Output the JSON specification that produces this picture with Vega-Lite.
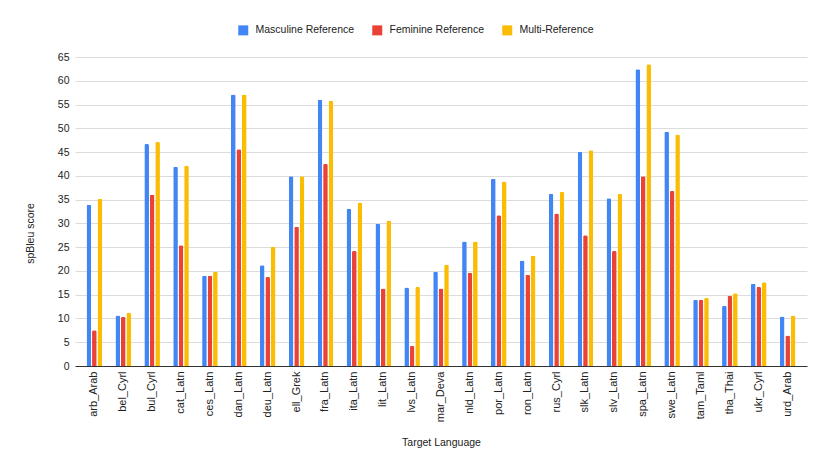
{
  "$schema": "https://vega.github.io/schema/vega-lite/v6.json",
  "description": "spBleu score by target language and reference type",
  "width": 732,
  "height": 309,
  "autosize": {"type": "none"},
  "padding": {"left": 75, "top": 57, "right": 23, "bottom": 107},
  "background": "white",
  "config": {
    "font": "Arial, Liberation Sans, sans-serif",
    "view": {"stroke": null},
    "axis": {"labelColor": "#222222", "titleColor": "#222222", "titleFontWeight": "normal"}
  },
  "data": {
    "values": [
      {"lang": "arb_Arab", "ref": "Masculine Reference", "score": 33.9},
      {"lang": "arb_Arab", "ref": "Feminine Reference", "score": 7.5},
      {"lang": "arb_Arab", "ref": "Multi-Reference", "score": 35.2},
      {"lang": "bel_Cyrl", "ref": "Masculine Reference", "score": 10.6},
      {"lang": "bel_Cyrl", "ref": "Feminine Reference", "score": 10.3},
      {"lang": "bel_Cyrl", "ref": "Multi-Reference", "score": 11.2},
      {"lang": "bul_Cyrl", "ref": "Masculine Reference", "score": 46.7},
      {"lang": "bul_Cyrl", "ref": "Feminine Reference", "score": 36.0},
      {"lang": "bul_Cyrl", "ref": "Multi-Reference", "score": 47.1},
      {"lang": "cat_Latn", "ref": "Masculine Reference", "score": 41.9},
      {"lang": "cat_Latn", "ref": "Feminine Reference", "score": 25.4},
      {"lang": "cat_Latn", "ref": "Multi-Reference", "score": 42.1},
      {"lang": "ces_Latn", "ref": "Masculine Reference", "score": 19.0},
      {"lang": "ces_Latn", "ref": "Feminine Reference", "score": 19.0},
      {"lang": "ces_Latn", "ref": "Multi-Reference", "score": 19.8},
      {"lang": "dan_Latn", "ref": "Masculine Reference", "score": 57.1},
      {"lang": "dan_Latn", "ref": "Feminine Reference", "score": 45.6},
      {"lang": "dan_Latn", "ref": "Multi-Reference", "score": 57.1},
      {"lang": "deu_Latn", "ref": "Masculine Reference", "score": 21.2},
      {"lang": "deu_Latn", "ref": "Feminine Reference", "score": 18.7},
      {"lang": "deu_Latn", "ref": "Multi-Reference", "score": 25.1},
      {"lang": "ell_Grek", "ref": "Masculine Reference", "score": 39.9},
      {"lang": "ell_Grek", "ref": "Feminine Reference", "score": 29.3},
      {"lang": "ell_Grek", "ref": "Multi-Reference", "score": 39.9},
      {"lang": "fra_Latn", "ref": "Masculine Reference", "score": 56.0},
      {"lang": "fra_Latn", "ref": "Feminine Reference", "score": 42.5},
      {"lang": "fra_Latn", "ref": "Multi-Reference", "score": 55.8},
      {"lang": "ita_Latn", "ref": "Masculine Reference", "score": 33.1},
      {"lang": "ita_Latn", "ref": "Feminine Reference", "score": 24.2},
      {"lang": "ita_Latn", "ref": "Multi-Reference", "score": 34.4},
      {"lang": "lit_Latn", "ref": "Masculine Reference", "score": 29.9},
      {"lang": "lit_Latn", "ref": "Feminine Reference", "score": 16.3},
      {"lang": "lit_Latn", "ref": "Multi-Reference", "score": 30.6},
      {"lang": "lvs_Latn", "ref": "Masculine Reference", "score": 16.5},
      {"lang": "lvs_Latn", "ref": "Feminine Reference", "score": 4.2},
      {"lang": "lvs_Latn", "ref": "Multi-Reference", "score": 16.6},
      {"lang": "mar_Deva", "ref": "Masculine Reference", "score": 19.8},
      {"lang": "mar_Deva", "ref": "Feminine Reference", "score": 16.3},
      {"lang": "mar_Deva", "ref": "Multi-Reference", "score": 21.3},
      {"lang": "nld_Latn", "ref": "Masculine Reference", "score": 26.2},
      {"lang": "nld_Latn", "ref": "Feminine Reference", "score": 19.6},
      {"lang": "nld_Latn", "ref": "Multi-Reference", "score": 26.2},
      {"lang": "por_Latn", "ref": "Masculine Reference", "score": 39.4},
      {"lang": "por_Latn", "ref": "Feminine Reference", "score": 31.7},
      {"lang": "por_Latn", "ref": "Multi-Reference", "score": 38.8},
      {"lang": "ron_Latn", "ref": "Masculine Reference", "score": 22.2},
      {"lang": "ron_Latn", "ref": "Feminine Reference", "score": 19.2},
      {"lang": "ron_Latn", "ref": "Multi-Reference", "score": 23.2},
      {"lang": "rus_Cyrl", "ref": "Masculine Reference", "score": 36.2},
      {"lang": "rus_Cyrl", "ref": "Feminine Reference", "score": 32.1},
      {"lang": "rus_Cyrl", "ref": "Multi-Reference", "score": 36.6},
      {"lang": "slk_Latn", "ref": "Masculine Reference", "score": 45.0},
      {"lang": "slk_Latn", "ref": "Feminine Reference", "score": 27.5},
      {"lang": "slk_Latn", "ref": "Multi-Reference", "score": 45.4},
      {"lang": "slv_Latn", "ref": "Masculine Reference", "score": 35.3},
      {"lang": "slv_Latn", "ref": "Feminine Reference", "score": 24.2},
      {"lang": "slv_Latn", "ref": "Multi-Reference", "score": 36.2},
      {"lang": "spa_Latn", "ref": "Masculine Reference", "score": 62.4},
      {"lang": "spa_Latn", "ref": "Feminine Reference", "score": 39.9},
      {"lang": "spa_Latn", "ref": "Multi-Reference", "score": 63.5},
      {"lang": "swe_Latn", "ref": "Masculine Reference", "score": 49.3},
      {"lang": "swe_Latn", "ref": "Feminine Reference", "score": 36.8},
      {"lang": "swe_Latn", "ref": "Multi-Reference", "score": 48.7},
      {"lang": "tam_Taml", "ref": "Masculine Reference", "score": 13.9},
      {"lang": "tam_Taml", "ref": "Feminine Reference", "score": 13.9},
      {"lang": "tam_Taml", "ref": "Multi-Reference", "score": 14.3},
      {"lang": "tha_Thai", "ref": "Masculine Reference", "score": 12.6},
      {"lang": "tha_Thai", "ref": "Feminine Reference", "score": 14.7},
      {"lang": "tha_Thai", "ref": "Multi-Reference", "score": 15.3},
      {"lang": "ukr_Cyrl", "ref": "Masculine Reference", "score": 17.3},
      {"lang": "ukr_Cyrl", "ref": "Feminine Reference", "score": 16.6},
      {"lang": "ukr_Cyrl", "ref": "Multi-Reference", "score": 17.6},
      {"lang": "urd_Arab", "ref": "Masculine Reference", "score": 10.4},
      {"lang": "urd_Arab", "ref": "Feminine Reference", "score": 6.4},
      {"lang": "urd_Arab", "ref": "Multi-Reference", "score": 10.6}
    ]
  },
  "mark": {"type": "bar", "cornerRadiusTopLeft": 1.5, "cornerRadiusTopRight": 1.5},
  "encoding": {
    "x": {
      "field": "lang",
      "type": "nominal",
      "sort": null,
      "title": "Target Language",
      "scale": {"paddingInner": 0.46, "paddingOuter": 0.4},
      "axis": {
        "labelAngle": -90,
        "labelFontSize": 11,
        "labelPadding": 5,
        "ticks": false,
        "domainColor": "#333333",
        "grid": false,
        "titleFontSize": 10.5,
        "titleY": 79,
        "titleBaseline": "alphabetic"
      }
    },
    "xOffset": {
      "field": "ref",
      "type": "nominal",
      "sort": ["Masculine Reference", "Feminine Reference", "Multi-Reference"],
      "scale": {"paddingInner": 0.15}
    },
    "y": {
      "field": "score",
      "type": "quantitative",
      "title": "spBleu score",
      "scale": {"domain": [0, 65], "nice": false},
      "axis": {
        "values": [0, 5, 10, 15, 20, 25, 30, 35, 40, 45, 50, 55, 60, 65],
        "domain": false,
        "ticks": false,
        "labelFontSize": 10.5,
        "labelPadding": 6,
        "gridColor": "#dcdcdc",
        "titleFontSize": 10.5,
        "titleX": -40,
        "titleY": 176
      }
    },
    "color": {
      "field": "ref",
      "type": "nominal",
      "title": null,
      "scale": {
        "domain": ["Masculine Reference", "Feminine Reference", "Multi-Reference"],
        "range": ["#4285F4", "#EA4335", "#FBBC04"]
      },
      "legend": {
        "orient": "none",
        "direction": "horizontal",
        "legendX": 163,
        "legendY": -32,
        "padding": 0,
        "symbolType": "square",
        "symbolSize": 100,
        "symbolStrokeWidth": 0,
        "symbolOpacity": 1,
        "labelFontSize": 10.5,
        "labelColor": "#222222",
        "labelOffset": 7,
        "columnPadding": 17
      }
    }
  }
}
